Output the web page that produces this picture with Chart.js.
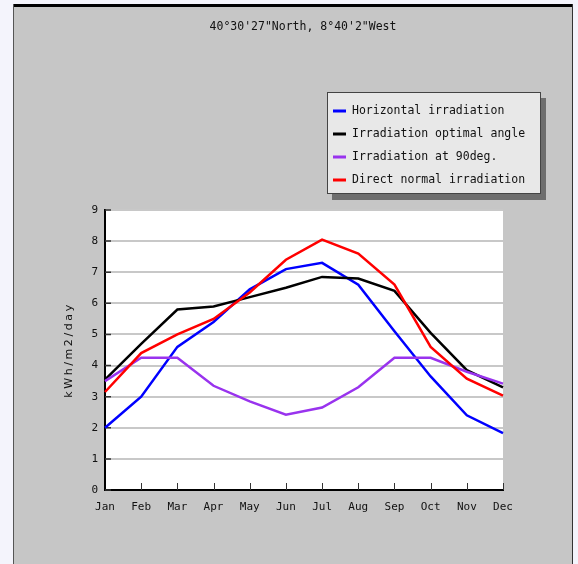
<!DOCTYPE html>
<html>
<head>
<meta charset="utf-8">
<script src="https://cdn.jsdelivr.net/npm/chart.js@4.4.1/dist/chart.umd.min.js"></script>
<style>
  html, body { margin: 0; padding: 0; background: #f4f4fc; }
  #wrap { position: relative; width: 578px; height: 564px; }
</style>
</head>
<body>
<div id="wrap"><canvas id="c"></canvas></div>
<script>
const titleText = '40°30\'27"North, 8°40\'2"West';
const yAxisLabel = 'kWh/m2/day';
const months = ['Jan','Feb','Mar','Apr','May','Jun','Jul','Aug','Sep','Oct','Nov','Dec'];
const yTickValues = [0,1,2,3,4,5,6,7,8,9];

const seriesNames = ['Horizontal irradiation','Irradiation optimal angle','Irradiation at 90deg.','Direct normal irradiation'];
const horizontal = [2.0, 3.0, 4.6, 5.4, 6.45, 7.1, 7.3, 6.6, 5.1, 3.65, 2.4, 1.83];
const optimalAngle = [3.55, 4.7, 5.8, 5.9, 6.2, 6.5, 6.85, 6.8, 6.4, 5.05, 3.85, 3.3];
const at90deg = [3.5, 4.25, 4.25, 3.35, 2.85, 2.42, 2.65, 3.3, 4.25, 4.25, 3.8, 3.42];
const directNormal = [3.15, 4.4, 5.0, 5.5, 6.35, 7.4, 8.05, 7.6, 6.6, 4.6, 3.58, 3.03];
const seriesColors = ['#0000ff', '#000000', '#9933ee', '#ff0000'];

const MONO = "'DejaVu Sans Mono', 'Liberation Mono', monospace";

const decorPlugin = {
  id: 'decor',
  beforeDraw(chart) {
    const ctx = chart.ctx;
    const W = chart.width, H = chart.height;
    ctx.save();
    ctx.fillStyle = '#f4f4fc';
    ctx.fillRect(0, 0, W, H);
    // panel
    ctx.fillStyle = '#c6c6c6';
    ctx.fillRect(13, 4, 560, H - 4);
    ctx.fillStyle = '#000';
    ctx.fillRect(13, 4, 560, 3);
    ctx.fillStyle = '#555';
    ctx.fillRect(13, 4, 1, H - 4);
    ctx.fillStyle = '#333';
    ctx.fillRect(572, 4, 1, H - 4);
    // plot background
    const a = chart.chartArea;
    ctx.fillStyle = '#ffffff';
    ctx.fillRect(a.left, a.top, a.right - a.left, a.bottom - a.top);
    // title
    ctx.fillStyle = '#111';
    ctx.font = '11.5px ' + MONO;
    ctx.textAlign = 'center';
    ctx.textBaseline = 'middle';
    ctx.fillText(titleText, 303, 27);
    // y axis label
    ctx.translate(69, (a.top + a.bottom) / 2);
    ctx.rotate(-Math.PI / 2);
    ctx.font = "11px 'DejaVu Sans', sans-serif";
    try { ctx.letterSpacing = '2.6px'; } catch (e) {}
    ctx.fillText(yAxisLabel, 0, 0);
    ctx.restore();
  },
  beforeDatasetsDraw(chart) {
    const ctx = chart.ctx;
    const x = chart.scales.x, y = chart.scales.y;
    const a = chart.chartArea;
    ctx.save();
    ctx.strokeStyle = '#333';
    ctx.lineWidth = 1;
    ctx.beginPath();
    for (let i = 1; i < months.length; i++) {
      const px = Math.round(x.getPixelForValue(i)) + 0.5;
      ctx.moveTo(px, a.bottom);
      ctx.lineTo(px, a.bottom - 7);
    }
    ctx.stroke();
    ctx.lineWidth = 1.5;
    ctx.beginPath();
    for (const v of yTickValues) {
      const py = y.getPixelForValue(v);
      ctx.moveTo(a.left, py);
      ctx.lineTo(a.left + 6, py);
    }
    ctx.stroke();
    ctx.restore();
  },
  afterDraw(chart) {
    const ctx = chart.ctx;
    ctx.save();
    const bx = 327, by = 92, bw = 214, bh = 102;
    ctx.fillStyle = '#6e6e6e';
    ctx.fillRect(bx + 5, by + 6, bw, bh);
    ctx.fillStyle = '#e8e8e8';
    ctx.fillRect(bx, by, bw, bh);
    ctx.strokeStyle = '#444';
    ctx.lineWidth = 1;
    ctx.strokeRect(bx + 0.5, by + 0.5, bw - 1, bh - 1);
    ctx.font = '11.5px ' + MONO;
    ctx.textAlign = 'left';
    ctx.textBaseline = 'middle';
    chart.data.datasets.forEach((ds, i) => {
      const ry = 111 + i * 23;
      ctx.strokeStyle = ds.borderColor;
      ctx.lineWidth = 3;
      ctx.beginPath();
      ctx.moveTo(333, ry);
      ctx.lineTo(346, ry);
      ctx.stroke();
      ctx.fillStyle = '#111';
      ctx.fillText(ds.label, 352, ry);
    });
    ctx.restore();
  }
};

const seriesData = [horizontal, optimalAngle, at90deg, directNormal];
const drawOrder = [3, 2, 1, 0];

new Chart(document.getElementById('c'), {
  type: 'line',
  data: {
    labels: months,
    datasets: seriesNames.map((name, i) => ({
      label: name,
      data: seriesData[i],
      borderColor: seriesColors[i],
      backgroundColor: seriesColors[i],
      borderWidth: 2.5,
      pointRadius: 0,
      tension: 0,
      fill: false,
      order: drawOrder[i]
    }))
  },
  options: {
    responsive: true,
    maintainAspectRatio: false,
    animation: false,
    devicePixelRatio: 1,
    layout: { padding: { left: 0, right: 75, top: 210, bottom: 0 } },
    plugins: {
      legend: { display: false },
      title: { display: false },
      tooltip: { enabled: false }
    },
    scales: {
      x: {
        type: 'category',
        offset: false,
        afterFit(scale) { scale.height = 74; },
        grid: { drawOnChartArea: false, drawTicks: false },
        border: { display: true, color: '#000', width: 2 },
        ticks: {
          color: '#111',
          font: { family: MONO, size: 11 },
          padding: 11,
          maxRotation: 0,
          autoSkip: false
        }
      },
      y: {
        min: 0,
        max: 9,
        afterFit(scale) { scale.width = 105; },
        afterBuildTicks(scale) { scale.ticks = yTickValues.map(v => ({ value: v })); },
        grid: { color: '#c8c8c8', lineWidth: 2, drawTicks: false },
        border: { display: true, color: '#000', width: 2 },
        ticks: {
          color: '#111',
          font: { family: MONO, size: 11 },
          padding: 7
        }
      }
    }
  },
  plugins: [decorPlugin]
});
</script>
</body>
</html>
